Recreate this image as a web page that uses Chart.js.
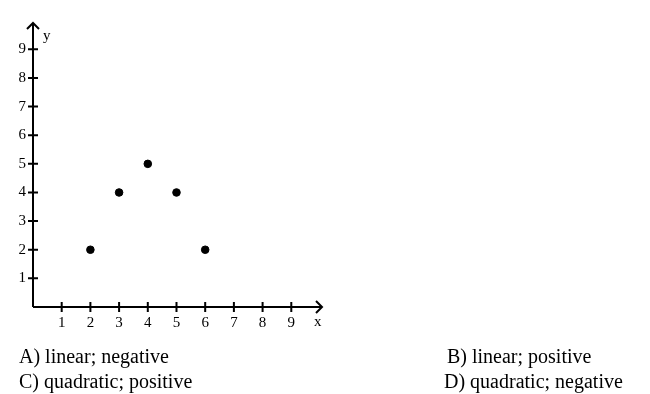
<!DOCTYPE html>
<html>
<head>
<meta charset="utf-8">
<script src="https://cdn.jsdelivr.net/npm/chart.js@4"></script>
<style>
  html, body { margin: 0; padding: 0; background: #fff; }
  #wrap { position: relative; width: 650px; height: 394px; }
  #chart { position: absolute; left: 0; top: 0; }
  .opt { position: absolute; font-family: 'Liberation Serif', serif; font-size: 20px; color: #000; white-space: nowrap; line-height: 1; }
</style>
</head>
<body>
<div id="wrap">
  <canvas id="chart" width="650" height="394"></canvas>
  <div class="opt" style="left:19px; top:346px;">A) linear; negative</div>
  <div class="opt" style="left:447px; top:346px;">B) linear; positive</div>
  <div class="opt" style="left:19px; top:371px;">C) quadratic; positive</div>
  <div class="opt" style="left:444px; top:371px;">D) quadratic; negative</div>
</div>
<script>
// data
var xValues = [2, 3, 4, 5, 6];
var yValues = [2, 4, 5, 4, 2];
var xTicks = [1, 2, 3, 4, 5, 6, 7, 8, 9];
var yTicks = [1, 2, 3, 4, 5, 6, 7, 8, 9];

var points = xValues.map(function (x, i) { return { x: x, y: yValues[i] }; });

// axes with crossing ticks and arrow heads
var axesPlugin = {
  id: 'axesPlugin',
  afterDraw: function (chart) {
    var ctx = chart.ctx;
    var xs = chart.scales.x, ys = chart.scales.y;
    var x0 = xs.getPixelForValue(0), y0 = ys.getPixelForValue(0);
    var right = chart.chartArea.right, top = chart.chartArea.top;
    ctx.save();
    ctx.strokeStyle = '#000';
    ctx.lineWidth = 2;
    ctx.beginPath();
    ctx.moveTo(x0, y0); ctx.lineTo(right, y0);
    ctx.moveTo(x0, y0); ctx.lineTo(x0, top);
    // arrows
    ctx.moveTo(right - 6, y0 - 6); ctx.lineTo(right, y0); ctx.lineTo(right - 6, y0 + 6);
    ctx.moveTo(x0 - 6, top + 6); ctx.lineTo(x0, top); ctx.lineTo(x0 + 6, top + 6);
    xTicks.forEach(function (v) {
      var px = xs.getPixelForValue(v);
      ctx.moveTo(px, y0 - 5); ctx.lineTo(px, y0 + 5);
    });
    yTicks.forEach(function (v) {
      var py = ys.getPixelForValue(v);
      ctx.moveTo(x0 - 5, py); ctx.lineTo(x0 + 5, py);
    });
    ctx.stroke();

    ctx.fillStyle = '#000';
    ctx.font = '15px "Liberation Serif", serif';
    ctx.textAlign = 'center';
    ctx.textBaseline = 'middle';
    xTicks.forEach(function (v) {
      ctx.fillText(String(v), xs.getPixelForValue(v), y0 + 16);
    });
    ctx.textAlign = 'right';
    yTicks.forEach(function (v) {
      ctx.fillText(String(v), x0 - 7, ys.getPixelForValue(v));
    });
    ctx.textAlign = 'left';
    ctx.fillText('x', right - 8, y0 + 15);
    ctx.fillText('y', x0 + 10, top + 13);
    ctx.restore();
  }
};

new Chart(document.getElementById('chart'), {
  type: 'scatter',
  data: {
    datasets: [{
      data: points,
      backgroundColor: '#000',
      borderColor: '#000',
      pointRadius: 3.8,
      pointHoverRadius: 3.8
    }]
  },
  options: {
    responsive: false,
    animation: false,
    layout: { padding: { left: 33, top: 23, right: 328, bottom: 87 } },
    plugins: { legend: { display: false }, tooltip: { enabled: false } },
    scales: {
      x: { type: 'linear', min: 0, max: 10.07, display: false },
      y: { type: 'linear', min: 0, max: 9.92, display: false }
    }
  },
  plugins: [axesPlugin]
});
</script>
</body>
</html>
